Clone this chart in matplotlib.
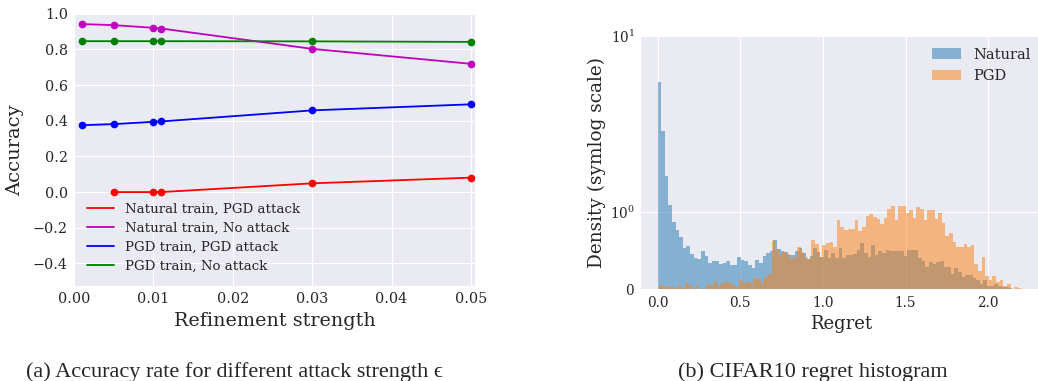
import numpy as np
import matplotlib
matplotlib.use("Agg")
import matplotlib.pyplot as plt

# ---------------- data ----------------
strength = [0.001, 0.005, 0.01, 0.011, 0.03, 0.05]
nat_pgd_x = [0.005, 0.01, 0.011, 0.03, 0.05]
nat_pgd = [0.0, 0.0, 0.0, 0.049, 0.081]
nat_none = [0.942, 0.936, 0.921, 0.917, 0.803, 0.719]
pgd_pgd = [0.375, 0.381, 0.394, 0.396, 0.458, 0.492]
pgd_none = [0.846, 0.846, 0.846, 0.846, 0.845, 0.842]
line_labels = ["Natural train, PGD attack", "Natural train, No attack",
               "PGD train, PGD attack", "PGD train, No attack"]

natural_density = [
    4.71, 2.10, 1.46, 1.09, 0.87, 0.77, 0.68, 0.53, 0.56, 0.46,
    0.41, 0.39, 0.50, 0.43, 0.34, 0.37, 0.37, 0.33, 0.34, 0.37,
    0.32, 0.32, 0.42, 0.38, 0.37, 0.31, 0.28, 0.38, 0.34, 0.43,
    0.47, 0.49, 0.63, 0.52, 0.50, 0.48, 0.44, 0.44, 0.49, 0.53,
    0.47, 0.39, 0.43, 0.53, 0.48, 0.42, 0.51, 0.40, 0.47, 0.40,
    0.53, 0.40, 0.44, 0.44, 0.46, 0.51, 0.60, 0.47, 0.42, 0.57,
    0.44, 0.49, 0.47, 0.51, 0.49, 0.49, 0.49, 0.49, 0.43, 0.51,
    0.51, 0.51, 0.40, 0.37, 0.29, 0.35, 0.33, 0.35, 0.37, 0.29,
    0.29, 0.20, 0.28, 0.22, 0.16, 0.19, 0.19, 0.15, 0.12, 0.07,
    0.12, 0.045, 0.045, 0.07, 0.045, 0.03, 0.03, 0.02, 0.006, 0.003]
pgd_density = [
    0.06, 0.026, 0.047, 0.03, 0.017, 0.047, 0.022, 0.077, 0.06, 0.009,
    0.047, 0.009, 0.009, 0.06, 0.06, 0.11, 0.047, 0.077, 0.11, 0.086,
    0.06, 0.035, 0.12, 0.086, 0.096, 0.074, 0.15, 0.13, 0.083, 0.16,
    0.20, 0.62, 0.52, 0.44, 0.48, 0.46, 0.39, 0.42, 0.54, 0.48,
    0.42, 0.39, 0.63, 0.58, 0.42, 0.57, 0.60, 0.61, 0.54, 0.89,
    0.80, 0.77, 0.78, 0.78, 0.89, 0.75, 0.80, 0.94, 0.97, 0.93,
    0.90, 0.84, 0.92, 1.03, 1.07, 0.89, 1.07, 1.07, 0.98, 1.02,
    0.92, 1.06, 1.04, 0.89, 1.02, 1.02, 0.90, 0.98, 0.85, 0.69,
    0.72, 0.61, 0.54, 0.54, 0.58, 0.54, 0.57, 0.33, 0.24, 0.42,
    0.17, 0.12, 0.17, 0.096, 0.12, 0.045, 0.07, 0.006, 0.03, 0.02]
natural_start, pgd_start, bin_width = 0.0, 0.011, 0.0219
hist_labels = ["Natural", "PGD"]
captions = ["(a) Accuracy rate for different attack strength \u03f5",
            "(b) CIFAR10 regret histogram"]

# ---------------- style ----------------
plt.style.use("seaborn-v0_8-darkgrid")
plt.rcParams["font.family"] = ["DejaVu Serif"]
plt.rcParams["mathtext.fontset"] = "dejavuserif"
plt.rcParams["axes.unicode_minus"] = True

fig = plt.figure(figsize=(10.38, 3.81), dpi=100)

# ---------------- left: accuracy ----------------
ax1 = fig.add_axes([0.0713, 0.2501, 0.3863, 0.7139])
series = [(nat_pgd_x, nat_pgd, "r"), (strength, nat_none, "m"),
          (strength, pgd_pgd, "b"), (strength, pgd_none, "g")]
for (xs, ys, c), lab in zip(series, line_labels):
    ax1.plot(xs, ys, color=c, lw=1.3, label=lab)
    ax1.plot(xs, ys, "o", color=c, ms=4.5)
ax1.set_xlim(0, 0.0505)
ax1.set_ylim(-0.525, 1.0)
ax1.set_xticks([0.0, 0.01, 0.02, 0.03, 0.04, 0.05])
ax1.set_yticks([-0.4, -0.2, 0.0, 0.2, 0.4, 0.6, 0.8, 1.0])
ax1.tick_params(labelsize=10.4, pad=4.5)
ax1.set_xlabel("Refinement strength", fontsize=13.8, labelpad=4)
ax1.set_ylabel("Accuracy", fontsize=14, labelpad=6)
ax1.legend(loc="lower left", fontsize=9.6, frameon=False,
           handlelength=2.0, borderaxespad=0.6, labelspacing=0.45)

# ---------------- right: histogram ----------------
ax2 = fig.add_axes([0.6175, 0.2402, 0.3863, 0.6654])
nat_edges = natural_start + bin_width * np.arange(len(natural_density) + 1)
pgd_edges = pgd_start + bin_width * np.arange(len(pgd_density) + 1)
ax2.hist(nat_edges[:-1], bins=nat_edges, weights=natural_density,
         alpha=0.5, color="#1f77b4", label=hist_labels[0])
ax2.hist(pgd_edges[:-1], bins=pgd_edges, weights=pgd_density,
         alpha=0.5, color="#ff7f0e", label=hist_labels[1])
ax2.set_yscale("symlog")
ax2.set_ylim(0, 10)
ax2.set_xlim(-0.1, 2.325)
ax2.set_xticks([0.0, 0.5, 1.0, 1.5, 2.0])
ax2.tick_params(labelsize=9.8, pad=4.5)
ax2.set_xlabel("Regret", fontsize=13, labelpad=4)
ax2.set_ylabel("Density (symlog scale)", fontsize=13.3, labelpad=3)
ax2.legend(loc="upper right", fontsize=10.5, frameon=False,
           borderaxespad=0.4)

# ---------------- captions ----------------
fig.text(0.226, 0.011, captions[0], ha="center", va="baseline",
         fontsize=16, family=["Liberation Serif", "DejaVu Serif"])
fig.text(0.783, 0.011, captions[1], ha="center", va="baseline",
         fontsize=16, family=["Liberation Serif", "DejaVu Serif"])

fig.savefig("out.png", dpi=100)
